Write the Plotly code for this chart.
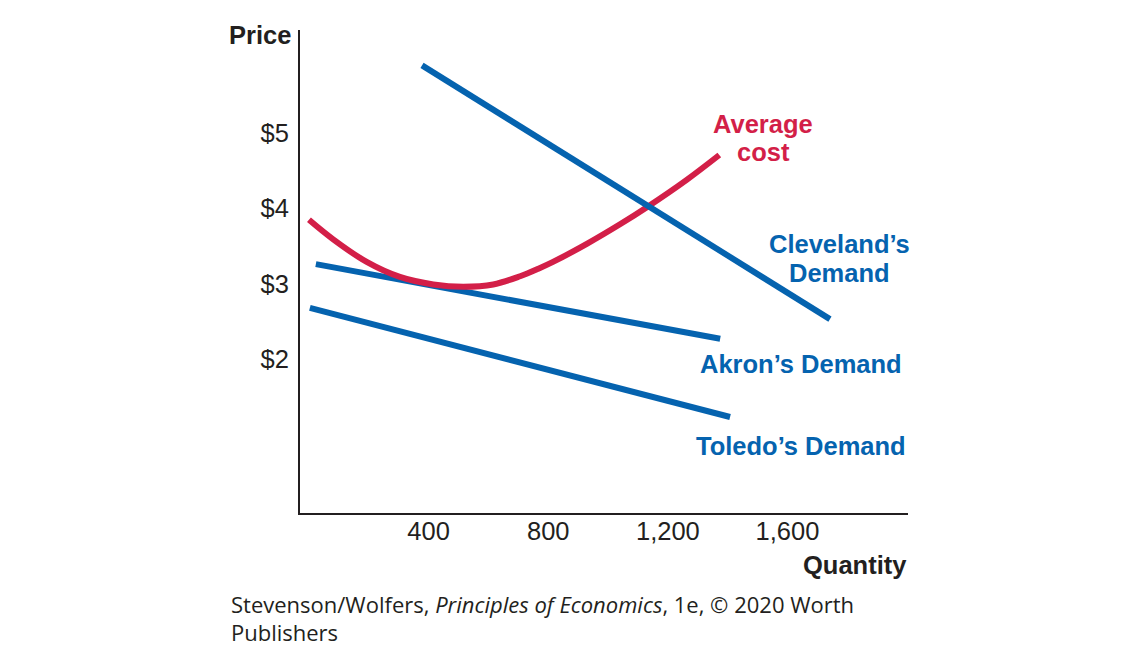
import plotly.graph_objects as go

# Data
cleveland_q = [378, 1742]
cleveland_p = [5.90, 2.53]
akron_q = [23, 1375]
akron_p = [3.26, 2.27]
toledo_q = [3, 1408]
toledo_p = [2.68, 1.23]
ac_q = [0, 81, 193, 304, 416, 516, 616, 706, 767, 816, 929, 1040, 1135, 1263, 1372]
ac_p = [3.85, 3.59, 3.29, 3.09, 2.99, 2.96, 2.99, 3.10, 3.20, 3.29, 3.53, 3.79, 4.03, 4.38, 4.71]
x_ticks = [400, 800, 1200, 1600]
x_tick_labels = ["400", "800", "1,200", "1,600"]
y_ticks = [2, 3, 4, 5]
y_tick_labels = ["$2", "$3", "$4", "$5"]

BLUE = "#0563AF"
RED = "#D31F48"
INK = "#231F20"
FONT = "Liberation Sans"
FS = 25.5

fig = go.Figure()
fig.add_trace(go.Scatter(x=toledo_q, y=toledo_p, mode="lines", line=dict(color=BLUE, width=6), showlegend=False))
fig.add_trace(go.Scatter(x=akron_q, y=akron_p, mode="lines", line=dict(color=BLUE, width=6), showlegend=False))
fig.add_trace(go.Scatter(x=ac_q, y=ac_p, mode="lines", line=dict(color=RED, width=6, shape="spline"), showlegend=False))
fig.add_trace(go.Scatter(x=cleveland_q, y=cleveland_p, mode="lines", line=dict(color=BLUE, width=6), showlegend=False))

# page offset (body margin)
OFF = 8
W, H = 1140 - OFF, 664 - OFF
L, T = 300 - OFF, 30 - OFF
pw = 908 - 300
ph = 513 - 30
R = W - L - pw
B = H - T - ph

def px(xs):
    return (xs - OFF - L) / pw

def py(ys):
    return (H - B - (ys - OFF)) / ph

def label(text, xs, ys, color, anchor="center"):
    fig.add_annotation(x=px(xs), y=py(ys), xref="paper", yref="paper", text=text, showarrow=False,
                       xanchor=anchor, yanchor="middle",
                       font=dict(family=FONT, size=FS, color=color))

label("<b>Average</b>", 763, 124, RED)
label("<b>cost</b>", 763, 152, RED)
label("<b>Cleveland’s</b>", 839, 244, BLUE)
label("<b>Demand</b>", 839, 273, BLUE)
label("<b>Akron’s Demand</b>", 801, 364, BLUE)
label("<b>Toledo’s Demand</b>", 801, 446, BLUE)
label("<b>Price</b>", 293, 35, INK, anchor="right")
label("<b>Quantity</b>", 909, 565, INK, anchor="right")

fig.add_annotation(x=px(229), y=py(604), xref="paper", yref="paper",
                   text="Stevenson/Wolfers, <i>Principles of Economics</i>, 1e, © 2020 Worth",
                   showarrow=False, xanchor="left", yanchor="middle",
                   font=dict(family="Open Sans", size=22, color=INK))
fig.add_annotation(x=px(229), y=py(632), xref="paper", yref="paper",
                   text="Publishers",
                   showarrow=False, xanchor="left", yanchor="middle",
                   font=dict(family="Open Sans", size=22, color=INK))

fig.update_xaxes(range=[-30, 2003], tickvals=x_ticks, ticktext=x_tick_labels,
                 showgrid=False, zeroline=False, showline=True, linecolor=INK, linewidth=2,
                 ticks="", ticklabelstandoff=-6, tickfont=dict(family=FONT, size=FS, color=INK))
fig.update_yaxes(range=[-0.045, 6.37], tickvals=y_ticks, ticktext=y_tick_labels,
                 showgrid=False, zeroline=False, showline=True, linecolor=INK, linewidth=2,
                 ticks="", ticklabelstandoff=4, tickfont=dict(family=FONT, size=FS, color=INK))

fig.update_layout(width=W, height=H, margin=dict(l=L, r=R, t=T, b=B, autoexpand=False),
                  plot_bgcolor="white", paper_bgcolor="white", showlegend=False)

fig.write_html("out.html")
